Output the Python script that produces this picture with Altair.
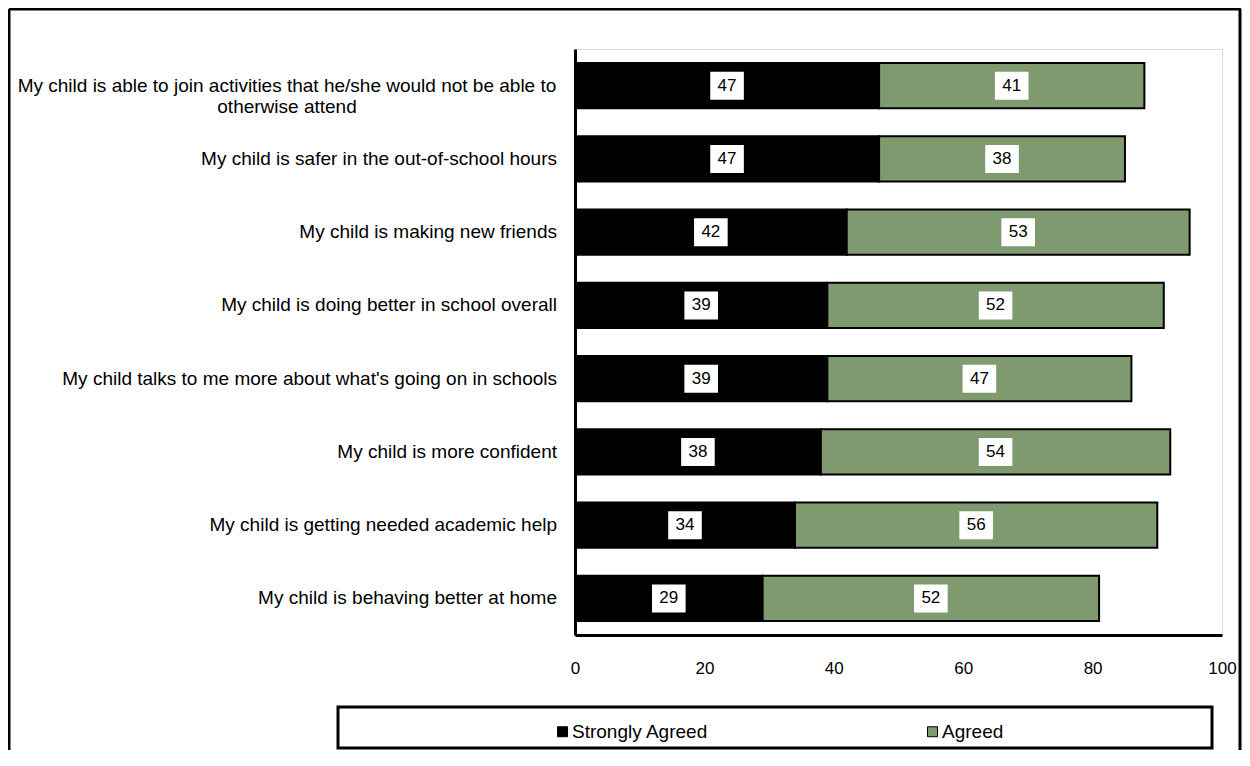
import altair as alt
import pandas as pd

categories = [
    "My child is able to join activities that he/she would not be able to otherwise attend",
    "My child is safer in the out-of-school hours",
    "My child is making new friends",
    "My child is doing better in school overall",
    "My child talks to me more about what's going on in schools",
    "My child is more confident",
    "My child is getting needed academic help",
    "My child is behaving better at home",
]
label_lines = [
    ["My child is able to join activities that he/she would not be able to", "otherwise attend"],
    ["My child is safer in the out-of-school hours"],
    ["My child is making new friends"],
    ["My child is doing better in school overall"],
    ["My child talks to me more about what's going on in schools"],
    ["My child is more confident"],
    ["My child is getting needed academic help"],
    ["My child is behaving better at home"],
]
strongly_agreed = [47, 47, 42, 39, 39, 38, 34, 29]
agreed = [41, 38, 53, 52, 47, 54, 56, 52]
series = ["Strongly Agreed", "Agreed"]
colors = ["#000000", "#7F9A6F"]
x_ticks = [0, 20, 40, 60, 80, 100]

rows = []
for c, s, a in zip(categories, strongly_agreed, agreed):
    rows.append({"category": c, "series": series[0], "value": s, "order": 0})
    rows.append({"category": c, "series": series[1], "value": a, "order": 1})
df = pd.DataFrame(rows)

lab = pd.DataFrame({"category": categories, "lines": label_lines,
                    "multi": [len(l) > 1 for l in label_lines]})

FONT = "Liberation Sans"
W, H = 647, 586

yenc = alt.Y("category:N", sort=categories, title=None,
             scale=alt.Scale(paddingInner=0.38, paddingOuter=0.19),
             axis=alt.Axis(labels=False, ticks=False, domain=True,
                           domainColor="#000000", domainWidth=3, grid=False))

base = alt.Chart(df).transform_stack(
    stack="value", groupby=["category"], sort=[alt.SortField("order")], as_=["x0", "x1"]
).transform_calculate(mid="(datum.x0 + datum.x1) / 2")

bars = base.mark_bar(stroke="#000000", strokeWidth=2).encode(
    x=alt.X("x0:Q", title=None,
            scale=alt.Scale(domain=[0, 100], nice=False, zero=True),
            axis=alt.Axis(values=x_ticks, ticks=False, grid=False, domain=True,
                          domainColor="#000000", domainWidth=3, labelFlush=False,
                          labelFontSize=17, labelPadding=25, labelColor="#000000",
                          labelFont=FONT)),
    x2="x1:Q",
    y=yenc,
    color=alt.Color("series:N", sort=series,
                    scale=alt.Scale(domain=series, range=colors),
                    legend=alt.Legend(orient="none", direction="horizontal",
                                      legendX=-22, legendY=673, title=None,
                                      symbolType="square", symbolSize=100,
                                      symbolStrokeColor="#000000", symbolStrokeWidth=1,
                                      symbolOpacity=1,
                                      labelFontSize=19, labelFont=FONT, labelColor="#000000",
                                      labelOffset=0, columnPadding=214, padding=0)),
)

boxes = base.mark_point(shape="M-1.2,-1H1.2V1H-1.2Z", filled=True, color="#FFFFFF",
                        opacity=1, size=784, strokeWidth=0).encode(
    x=alt.X("mid:Q"), y=alt.Y("category:N", sort=categories))

nums = base.mark_text(fontSize=17, font=FONT, color="#000000", baseline="middle",
                      align="center").encode(
    x=alt.X("mid:Q"), y=alt.Y("category:N", sort=categories), text="value:Q")

ylab_single = alt.Chart(lab).transform_filter("!datum.multi").mark_text(
    align="right", baseline="middle", fontSize=19, font=FONT, color="#000000"
).encode(x=alt.value(-18), y=alt.Y("category:N", sort=categories), text="lines")

ylab_multi = alt.Chart(lab).transform_filter("datum.multi").mark_text(
    align="center", baseline="middle", fontSize=19, font=FONT, color="#000000",
    lineHeight=21
).encode(x=alt.value(-288), y=alt.Y("category:N", sort=categories), text="lines")

one = alt.Data(values=[{"k": 1}])
legend_box = alt.Chart(one).mark_rect(fill="#FFFFFF", fillOpacity=0, stroke="#000000",
                                      strokeWidth=3).encode(
    x=alt.value(-237), x2=alt.value(637), y=alt.value(658), y2=alt.value(699))

border_top = alt.Chart(one).mark_rule(color="#000000", strokeWidth=3).encode(
    x=alt.value(-566), x2=alt.value(666), y=alt.value(-40))
border_left = alt.Chart(one).mark_rule(color="#000000", strokeWidth=3).encode(
    x=alt.value(-566), y=alt.value(-40), y2=alt.value(720))
border_right = alt.Chart(one).mark_rule(color="#000000", strokeWidth=3).encode(
    x=alt.value(665), y=alt.value(-40), y2=alt.value(720))

chart = alt.layer(
    legend_box, bars, boxes, nums, ylab_single, ylab_multi,
    border_top, border_left, border_right
).properties(
    width=W, height=H,
    autosize=alt.AutoSizeParams(type="none"),
    padding={"left": 567, "top": 41, "right": 20, "bottom": 115},
).configure_view(
    stroke="#808080", strokeWidth=3
).configure(font=FONT, background="#FFFFFF")

chart.save("out.html", embed_options={"renderer": "svg", "actions": False})
